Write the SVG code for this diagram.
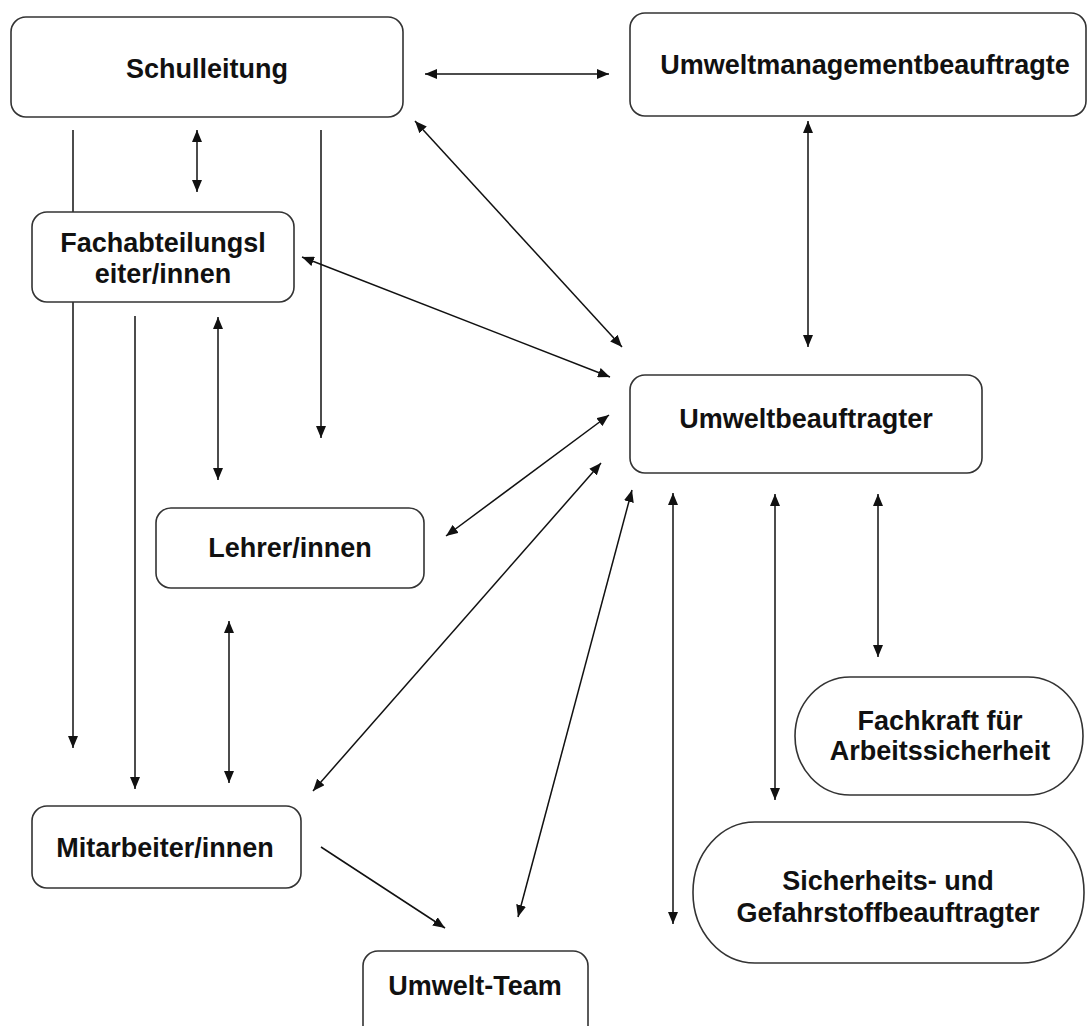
<svg xmlns="http://www.w3.org/2000/svg" width="1088" height="1026" viewBox="0 0 1088 1026">
<style>
.box{fill:#fff;stroke:#333;stroke-width:1.6}
.t{font-family:"Liberation Sans",Arial,sans-serif;font-weight:bold;font-size:27px;fill:#111;text-anchor:middle}
.c line{stroke:#111;stroke-width:1.5;fill:none}
.b{marker-start:url(#ah);marker-end:url(#ah)}
.e{marker-end:url(#ah)}
</style>
<defs>
<marker id="ah" viewBox="0 0 12 10" refX="12" refY="5" markerWidth="12" markerHeight="10" markerUnits="userSpaceOnUse" orient="auto-start-reverse">
<path d="M0,0 L12,5 L0,10 z" fill="#111"/>
</marker>
</defs>
<rect width="1088" height="1026" fill="#fff"/>
<g id="connectors" class="c">
<line class="b" x1="425" y1="74" x2="609" y2="74"/>
<line class="b" x1="197" y1="130" x2="197" y2="192"/>
<line class="e" x1="73" y1="130" x2="73" y2="748"/>
<line class="e" x1="321" y1="130" x2="321" y2="438"/>
<line class="e" x1="135" y1="316" x2="135" y2="789"/>
<line class="b" x1="218" y1="317" x2="218" y2="480"/>
<line class="b" x1="229" y1="621" x2="229" y2="783"/>
<line class="b" x1="415" y1="121" x2="622" y2="347"/>
<line class="b" x1="302" y1="257" x2="610" y2="377"/>
<line class="b" x1="808" y1="121" x2="808" y2="347"/>
<line class="b" x1="446" y1="536" x2="609" y2="415"/>
<line class="b" x1="313" y1="791" x2="601" y2="463"/>
<line class="b" x1="518" y1="917" x2="632" y2="490"/>
<line class="e" x1="321" y1="847" x2="445" y2="928"/>
<line class="b" x1="673" y1="493" x2="673" y2="924"/>
<line class="b" x1="775" y1="494" x2="775" y2="800"/>
<line class="b" x1="878" y1="494" x2="878" y2="657"/>
</g>
<g id="schulleitung"><rect class="box" x="11" y="17" width="392" height="100" rx="15"/><text class="t" x="207" y="78">Schulleitung</text></g>
<g id="umweltmanagementbeauftragte"><rect class="box" x="630" y="13" width="456" height="103" rx="15"/><text class="t" x="865" y="74">Umweltmanagementbeauftragte</text></g>
<g id="fachabteilungsleiter"><rect class="box" x="32" y="212" width="262" height="90" rx="15"/><text class="t" x="163" y="252">Fachabteilungsl</text><text class="t" x="163" y="283">eiter/innen</text></g>
<g id="umweltbeauftragter"><rect class="box" x="630" y="375" width="352" height="98" rx="15"/><text class="t" x="806" y="428">Umweltbeauftragter</text></g>
<g id="lehrer"><rect class="box" x="156" y="508" width="268" height="80" rx="15"/><text class="t" x="290" y="557">Lehrer/innen</text></g>
<g id="mitarbeiter"><rect class="box" x="32" y="806" width="269" height="82" rx="15"/><text class="t" x="165" y="857">Mitarbeiter/innen</text></g>
<g id="umwelt-team"><rect class="box" x="363" y="951" width="225" height="90" rx="15"/><text class="t" x="475" y="995">Umwelt-Team</text></g>
<g id="fachkraft"><rect class="box" x="795" y="677" width="288" height="118" rx="55" ry="59"/><text class="t" x="940" y="730">Fachkraft für</text><text class="t" x="940" y="760">Arbeitssicherheit</text></g>
<g id="sicherheits"><rect class="box" x="693" y="822" width="391" height="141" rx="62" ry="70"/><text class="t" x="888" y="890">Sicherheits- und</text><text class="t" x="888" y="922">Gefahrstoffbeauftragter</text></g>
</svg>
